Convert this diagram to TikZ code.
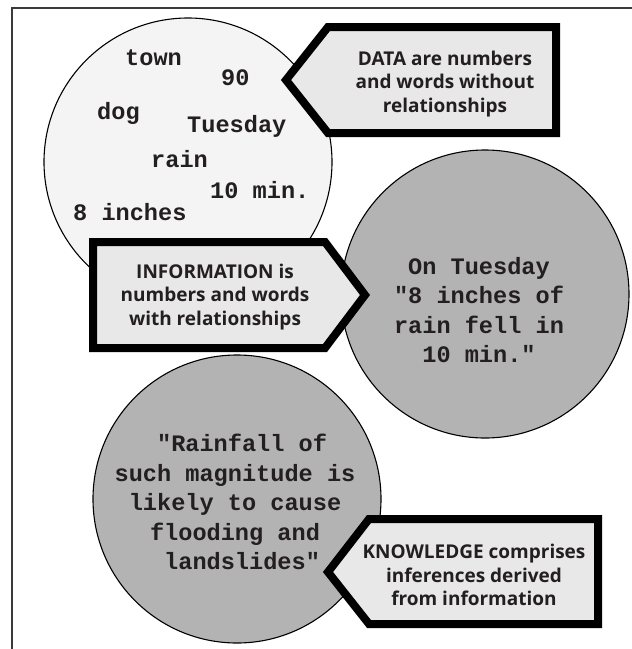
\documentclass[tikz,border=0pt]{standalone}
\usepackage{fontspec}
\setsansfont{Open Sans}
\setmonofont{Liberation Mono}
\definecolor{inkdark}{HTML}{231F20}
\definecolor{palefill}{HTML}{F4F4F4}
\definecolor{greyfill}{HTML}{B3B3B3}
\definecolor{tagfill}{HTML}{E8E8E8}
\definecolor{framegrey}{HTML}{3A3A3A}
\begin{document}
\begin{tikzpicture}[x=1pt,y=-1pt,
  bubble/.style={circle, draw=black, line width=1.1pt, minimum size=288pt, inner sep=0pt, outer sep=0pt},
  tagbox/.style={draw=black, line width=8pt, line join=miter, fill=tagfill},
  tagtext/.style={font=\sffamily\bfseries\fontsize{19}{23.5}\selectfont, align=center, text=inkdark, inner sep=0pt},
  monoword/.style={font=\ttfamily\bfseries\fontsize{23.6}{29.4}\selectfont, text=inkdark, inner sep=0pt, anchor=base west},
  monoblock/.style={font=\ttfamily\bfseries\fontsize{23.6}{29.4}\selectfont, text=inkdark, inner sep=0pt, align=center}]
\useasboundingbox (0,0) rectangle (632,649);

% page frame (top and left rules)
\draw[framegrey, line width=1.3pt] (632,8) -- (12,8) -- (12,649);

% DATA bubble with loose words
\node[bubble, fill=palefill] (data) at (188,162) {};
\node[monoword] (w1) at (125,65) {town};
\node[monoword] (w2) at (221,85) {90};
\node[monoword] (w3) at (97,119) {dog};
\node[monoword] (w4) at (187,132) {Tuesday};
\node[monoword] (w5) at (151,167) {rain};
\node[monoword] (w6) at (210,198) {10 min.};
\node[monoword] (w7) at (73,220) {8 inches};

% DATA tag pointing left
\draw[tagbox] (286,80) -- (328,27) -- (556,27) -- (556,133) -- (328,133) -- cycle;
\node[tagtext] (datatag) at (445,84) {DATA are numbers\\and words without\\relationships};

% INFORMATION bubble
\node[bubble, fill=greyfill] (info) at (485,294) {};
\node[monoblock] (infotext) at (479,310) {On Tuesday\\"8 inches of\\rain fell in\\10 min."};

% INFORMATION tag pointing right
\draw[tagbox] (93,242) -- (325,242) -- (365,295) -- (325,348) -- (93,348) -- cycle;
\node[tagtext] (infotag) at (215,297) {INFORMATION is\\numbers and words\\with relationships};

% KNOWLEDGE bubble
\node[bubble, fill=greyfill] (know) at (237,499) {};
\node[monoblock] (knowtext) at (235,502) {\hspace*{0.6em}"Rainfall of\\such magnitude is\\likely to cause\\flooding and\\\hspace*{0.6em}landslides"};

% KNOWLEDGE tag pointing left
\draw[tagbox] (328,572) -- (369,519) -- (598,519) -- (598,624) -- (369,624) -- cycle;
\node[tagtext] (knowtag) at (474,575) {KNOWLEDGE comprises\\inferences derived\\from information};
\end{tikzpicture}
\end{document}
